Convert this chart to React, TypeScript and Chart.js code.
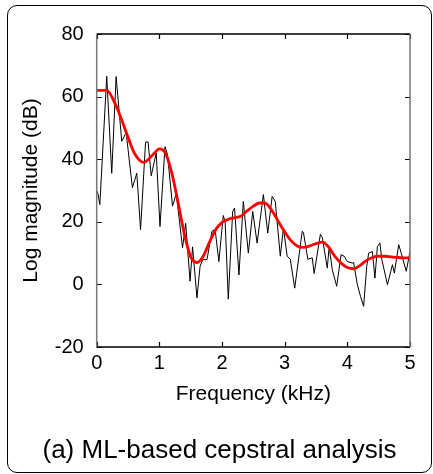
import React, { useEffect, useRef } from "react";
import { Chart, registerables } from "chart.js";

Chart.register(...registerables);

// Frequency (kHz) and log magnitude (dB) of the raw spectrum (black)
const specFreq = [
  0.0, 0.02, 0.05, 0.16, 0.24, 0.31, 0.4, 0.47, 0.57, 0.64, 0.7, 0.78, 0.82, 0.87, 0.95, 1.01,
  1.09, 1.13, 1.21, 1.27, 1.37, 1.42, 1.49, 1.53, 1.6, 1.65, 1.69, 1.76, 1.84, 1.89, 1.95, 2.02,
  2.05, 2.1, 2.17, 2.2, 2.27, 2.34, 2.42, 2.49, 2.56, 2.66, 2.73, 2.8, 2.85, 2.93, 2.98, 3.04,
  3.09, 3.16, 3.28, 3.3, 3.37, 3.44, 3.47, 3.57, 3.6, 3.68, 3.71, 3.76, 3.83, 3.9, 3.95, 4.0,
  4.08, 4.1, 4.16, 4.21, 4.26, 4.31, 4.34, 4.4, 4.44, 4.48, 4.52, 4.55, 4.64, 4.72, 4.75, 4.82,
  4.86, 4.94, 5.0,
];
const specDb = [
  30, 29, 25.5, 66.5, 35.5, 66.4, 45.7, 48.5, 30.9, 35.5, 17.5, 45.5, 45.5, 34.7, 42, 18.5,
  44, 41.5, 25, 29, 11.7, 19.5, 1, 12, -4.3, 5.8, 7.9, 7.9, 17, 17.5, 7.3, 22,
  20, -4.7, 23.3, 24.4, 3, 26.5, 10, 23.3, 13.2, 28.7, 16.4, 28.1, 26.5, 9, 18, 9,
  8, -1.2, 17, 16.5, 8, 8.5, 3.5, 16, 15, 5.2, 12, 4.7, -0.6, 9.5, 9, 7.3,
  6.8, 7, -0.1, -3.8, -7, 5.8, 10, 10.5, 2, 12.1, 13.2, 8, -0.1, 6.3, 3.6, 12.7,
  10, 4.2, 10.5,
];

// Cepstral envelope (red)
const envFreq = [
  0, 0.16, 0.3, 0.4, 0.5, 0.6, 0.75, 0.9, 1.0, 1.1, 1.2, 1.3, 1.4, 1.5, 1.6, 1.7, 1.8, 1.9,
  2.0, 2.1, 2.2, 2.3, 2.4, 2.5, 2.6, 2.68, 2.8, 2.9, 3.0, 3.1, 3.2, 3.3, 3.4, 3.5, 3.6, 3.7,
  3.8, 3.9, 4.0, 4.1, 4.2, 4.3, 4.4, 4.5, 4.6, 4.7, 4.8, 4.9, 5.0,
];
const envDb = [
  62, 62, 57.5, 52.5, 47, 42, 39, 41.5, 43.3, 41.8, 35.5, 26, 16, 8.8, 7, 9, 13.5, 17.5,
  19.8, 20.8, 21.3, 21.8, 23.5, 25, 26, 26, 23.5, 20, 16.8, 14, 12.3, 11.8, 12.3, 13, 13.5, 12,
  9, 6.8, 5.4, 5, 6, 7.6, 8.6, 9, 9, 8.8, 8.6, 8.5, 8.5,
];

const xTicks = [0, 1, 2, 3, 4, 5];
const yTicks = [-20, 0, 20, 40, 60, 80];

const FONT = "'Liberation Sans', Arial, Helvetica, sans-serif";

const frameTicks = {
  id: "frameTicks",
  afterDraw(chart: any) {
    const { ctx, chartArea, scales } = chart;
    const { left, right, top, bottom } = chartArea;
    const x = scales.x;
    const y = scales.y;
    const tl = 5;
    ctx.save();
    ctx.lineWidth = 1.2;
    ctx.strokeStyle = "#000";
    ctx.beginPath();
    x.ticks.forEach((t: any) => {
      const px = Math.round(x.getPixelForValue(t.value)) + 0.5;
      ctx.moveTo(px, bottom);
      ctx.lineTo(px, bottom - tl);
      ctx.moveTo(px, top);
      ctx.lineTo(px, top + tl);
    });
    y.ticks.forEach((t: any) => {
      const py = Math.round(y.getPixelForValue(t.value)) + 0.5;
      ctx.moveTo(left, py);
      ctx.lineTo(left + tl, py);
      ctx.moveTo(right, py);
      ctx.lineTo(right - tl, py);
    });
    ctx.stroke();
    ctx.lineWidth = 1.5;
    ctx.strokeStyle = "#000";
    ctx.beginPath();
    ctx.moveTo(left, top);
    ctx.lineTo(right, top);
    ctx.moveTo(left, bottom);
    ctx.lineTo(right, bottom);
    ctx.stroke();
    ctx.strokeStyle = "#777";
    ctx.beginPath();
    ctx.moveTo(left, top);
    ctx.lineTo(left, bottom);
    ctx.moveTo(right, top);
    ctx.lineTo(right, bottom);
    ctx.stroke();
    ctx.restore();
  },
};

export default function App() {
  const ref = useRef<HTMLCanvasElement | null>(null);

  useEffect(() => {
    if (!ref.current) return;
    const chart = new Chart(ref.current, {
      type: "line",
      data: {
        datasets: [
          {
            label: "Spectrum",
            data: specFreq.map((f, i) => ({ x: f, y: specDb[i] })),
            borderColor: "#000",
            borderWidth: 1,
            pointRadius: 0,
            tension: 0,
            order: 2,
          },
          {
            label: "Envelope",
            data: envFreq.map((f, i) => ({ x: f, y: envDb[i] })),
            borderColor: "#ff0000",
            borderWidth: 2.8,
            pointRadius: 0,
            cubicInterpolationMode: "monotone",
            order: 1,
          },
        ],
      },
      options: {
        responsive: false,
        animation: false,
        events: [],
        layout: { padding: { left: 0, top: 34, right: 23, bottom: 0 } },
        plugins: { legend: { display: false }, tooltip: { enabled: false } },
        scales: {
          x: {
            type: "linear",
            min: 0,
            max: 5,
            afterFit: (s: any) => {
              s.height = 127;
            },
            afterBuildTicks: (s: any) => {
              s.ticks = xTicks.map((v) => ({ value: v }));
            },
            grid: { display: false },
            border: { display: false },
            ticks: {
              color: "#000",
              padding: -4,
              font: { family: FONT, size: 20 },
              maxRotation: 0,
            },
            title: {
              display: true,
              text: "Frequency (kHz)",
              color: "#000",
              font: { family: FONT, size: 21 },
              padding: { top: 0, bottom: 67 },
            },
          },
          y: {
            type: "linear",
            min: -20,
            max: 80,
            afterFit: (s: any) => {
              s.width = 96.7;
            },
            afterBuildTicks: (s: any) => {
              s.ticks = yTicks.map((v) => ({ value: v }));
            },
            grid: { display: false },
            border: { display: false },
            ticks: {
              color: "#000",
              padding: 5,
              font: { family: FONT, size: 20 },
            },
            title: {
              display: true,
              text: "Log magnitude (dB)",
              color: "#000",
              font: { family: FONT, size: 21 },
              padding: { top: 19, bottom: 0 },
            },
          },
        },
      },
      plugins: [frameTicks],
    });
    return () => chart.destroy();
  }, []);

  return (
    <div style={{ position: "absolute", left: 0, top: 0, width: 433, height: 474, background: "#fff" }}>
      <div
        style={{
          position: "absolute",
          left: 7,
          top: 5,
          width: 425,
          height: 468,
          boxSizing: "border-box",
          border: "1.5px solid #000",
          borderRadius: 10,
        }}
      />
      <canvas
        ref={ref}
        width={433}
        height={474}
        style={{ position: "absolute", left: 0, top: 0, width: 433, height: 474 }}
      />
      <div
        style={{
          position: "absolute",
          left: 7,
          width: 425,
          top: 437,
          textAlign: "center",
          fontFamily: FONT,
          fontSize: 26,
          lineHeight: "25px",
          color: "#000",
          whiteSpace: "nowrap",
        }}
      >
        (a) ML-based cepstral analysis
      </div>
    </div>
  );
}
